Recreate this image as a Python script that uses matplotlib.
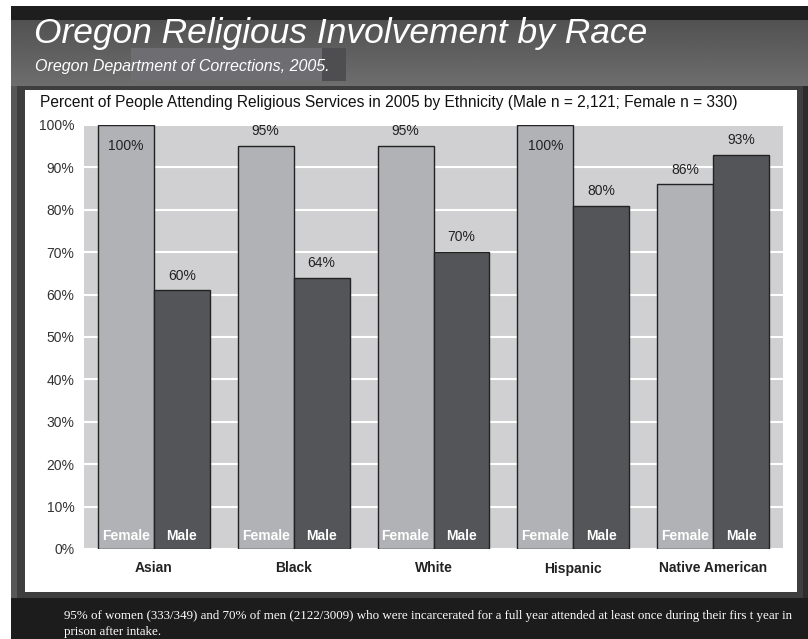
import numpy as np
import matplotlib.pyplot as plt
from matplotlib.patches import Rectangle

# data
races = ['Asian', 'Black', 'White', 'Hispanic', 'Native American']
female = [100, 95, 95, 100, 86]
male = [61, 64, 70, 81, 93]
female_labels = ['100%', '95%', '95%', '100%', '86%']
male_labels = ['60%', '64%', '70%', '80%', '93%']
yticks = [0, 10, 20, 30, 40, 50, 60, 70, 80, 90, 100]

W, H = 808, 639
fig = plt.figure(figsize=(W / 100, H / 100), dpi=100, facecolor='white')

SANS = ['Liberation Sans', 'DejaVu Sans']
SERIF = ['Liberation Serif', 'DejaVu Serif']


def box(x, y, w, h, color, z=0):
    # rectangle in pixel coords, origin top left
    fig.patches.append(Rectangle((x / W, 1 - (y + h) / H), w / W, h / H,
                                 transform=fig.transFigure, color=color,
                                 zorder=z, lw=0))


def ftext(x, y, s, **kw):
    fig.text(x / W, 1 - y / H, s, **kw)


# background pieces
box(11, 6, W - 11, H - 6, '#2c2c2c')
box(11, 6, W - 11, 14, '#1e1e1e')
bg = fig.add_axes([11 / W, 1 - 86 / H, (W - 11) / W, 66 / H], zorder=0.5)
grad = np.linspace(0.32, 0.43, 66).reshape(-1, 1)
bg.imshow(np.repeat(grad, 10, axis=1), cmap='gray', vmin=0, vmax=1,
          aspect='auto', extent=[0, 1, 1, 0])
bg.add_patch(Rectangle((0.15, 0.42), 0.25, 0.5, color='#6e6e72', lw=0))
bg.add_patch(Rectangle((0.39, 0.42), 0.03, 0.5, color='#4e4e50', lw=0))
bg.set_axis_off()
box(11, 86, 8, 512, '#575757')
box(17, 84, 786, 514, '#3e3e3e')
box(25, 90, 772, 502, 'white')
box(11, 598, W - 11, 41, '#1c1c1c')

ftext(34, 34, 'Oregon Religious Involvement by Race', color='white',
      fontsize=25.5, style='italic', family=SANS, va='center', zorder=2)
ftext(35, 66, 'Oregon Department of Corrections, 2005.', color='white',
      fontsize=11.5, style='italic', family=SANS, va='center', zorder=2)
ftext(40, 102, 'Percent of People Attending Religious Services in 2005 by '
      'Ethnicity (Male n = 2,121; Female n = 330)', color='#111111',
      fontsize=11.2, family=SANS, va='center')
ftext(64, 616, '95% of women (333/349) and 70% of men (2122/3009) who were '
      'incarcerated for a full year attended at least once during their '
      'firs t year in', color='white', fontsize=9.4, family=SERIF,
      va='center')
ftext(64, 632, 'prison after intake.', color='white', fontsize=9.4,
      family=SERIF, va='center')

# chart
ax = fig.add_axes([84 / W, 1 - 549 / H, 699 / W, 424 / H], zorder=1)
ax.set_facecolor('#d0d0d2')
x = np.arange(len(races))
bw = 0.4
ax.bar(x - bw / 2, female, bw, color='#b1b2b5', edgecolor='#222222',
       lw=1, zorder=3)
ax.bar(x + bw / 2, male, bw, color='#545558', edgecolor='#222222',
       lw=1, zorder=3)

for i in range(len(races)):
    for xp, v, lab in [(x[i] - bw / 2, female[i], female_labels[i]),
                       (x[i] + bw / 2, male[i], male_labels[i])]:
        ty = v - 5 if v >= 99 else v + 3.5
        ax.text(xp, ty, lab, ha='center', va='center', fontsize=10,
                color='#222222', family=SANS, zorder=4)
    ax.text(x[i] - bw / 2, 3, 'Female', ha='center', va='center',
            fontsize=10, color='white', weight='bold', family=SANS,
            zorder=4)
    ax.text(x[i] + bw / 2, 3, 'Male', ha='center', va='center',
            fontsize=10, color='white', weight='bold', family=SANS,
            zorder=4)

ax.set_xlim(-0.5, len(races) - 0.5)
ax.set_ylim(0, 100)
ax.set_yticks(yticks)
ax.set_yticklabels([f'{t}%' for t in yticks], fontsize=10, color='#333333',
                   family=SANS)
ax.set_xticks(x)
ax.set_xticklabels(races, fontsize=10, weight='bold', color='#222222',
                   family=SANS)
ax.tick_params(length=0, axis='y', pad=7)
ax.tick_params(length=0, axis='x', pad=9)
ax.yaxis.grid(True, color='white', lw=1.5, zorder=1)
ax.set_axisbelow(True)
for s in ax.spines.values():
    s.set_visible(False)

plt.savefig('out.png', dpi=100, facecolor=fig.get_facecolor())
